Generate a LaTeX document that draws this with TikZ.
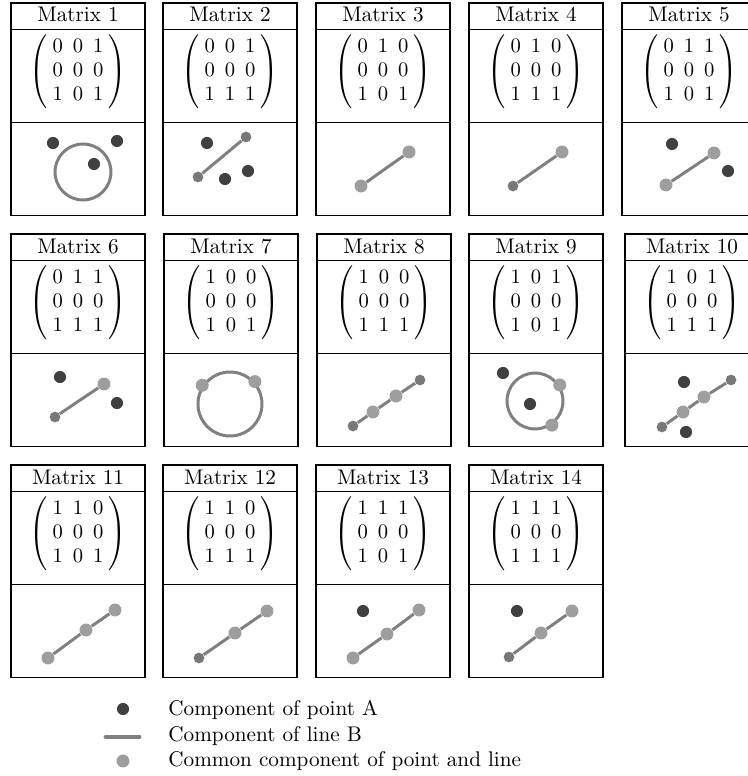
\documentclass[tikz,border=0pt]{standalone}
\usepackage{amsmath}
\definecolor{ptAc}{gray}{0.25}
\definecolor{lnBc}{gray}{0.5}
\definecolor{cmnc}{gray}{0.62}
\definecolor{lendc}{gray}{0.47}
\newcommand\mtx[9]{{\arraycolsep=2.4pt\def\arraystretch{0.94}$\left(\begin{array}{ccc}#1&#2&#3\\#4&#5&#6\\#7&#8&#9\end{array}\right)$}}
% #1 name, #2 cx, #3 top, #4 label, #5 matrix
\newcommand\mpanel[5]{%
  \node[tbox] (#1t) at ({#2},{#3+13.25}) {};
  \node[anchor=base, inner sep=0pt, font=\fontsize{10.3pt}{12.4pt}\selectfont] (#1l) at ({#2},{#3+19}) {Matrix #4};
  \node[mbox] (#1mb) at ({#2},{#3+26.5+46.5}) {};
  \node[inner sep=0pt, font=\fontsize{10.3pt}{12.4pt}\selectfont] (#1m) at ({#2},{#3+68.5}) {#5};
  \node[mbox] (#1d) at ({#2},{#3+26.5+93+46.5}) {};
}
\begin{document}
\begin{tikzpicture}[x=0.486pt,y=-0.486pt,
  tbox/.style={draw=black, line width=0.5pt, minimum width=65.12pt, minimum height=12.88pt, inner sep=0pt},
  mbox/.style={draw=black, line width=0.5pt, minimum width=65.12pt, minimum height=45.2pt, inner sep=0pt},
  ptA/.style={circle, fill=ptAc, inner sep=0pt, minimum size=5.9pt},
  common/.style={circle, fill=cmnc, inner sep=0pt, minimum size=6.3pt},
  lend/.style={circle, fill=lendc, inner sep=0pt, minimum size=5.2pt},
  lineB/.style={draw=lnBc, line width=1.45pt},
  ring/.style={circle, draw=lnBc, line width=1.45pt, inner sep=0pt},
  legtext/.style={anchor=base west, inner sep=0pt, font=\fontsize{10.3pt}{12.4pt}\selectfont}]
\useasboundingbox (0,0) rectangle (748,776);

% ---- Row 1
\mpanel{p1}{78}{3}{1}{\mtx001000101}
\mpanel{p2}{230}{3}{2}{\mtx001000111}
\mpanel{p3}{383}{3}{3}{\mtx010000101}
\mpanel{p4}{536}{3}{4}{\mtx010000111}
\mpanel{p5}{689}{3}{5}{\mtx011000101}
% ---- Row 2
\mpanel{p6}{78}{234}{6}{\mtx011000111}
\mpanel{p7}{231}{234}{7}{\mtx100000101}
\mpanel{p8}{384}{234}{8}{\mtx100000111}
\mpanel{p9}{536}{234}{9}{\mtx101000101}
\mpanel{p10}{692}{234}{10}{\mtx101000111}
% ---- Row 3
\mpanel{p11}{78}{465}{11}{\mtx110000101}
\mpanel{p12}{230}{465}{12}{\mtx110000111}
\mpanel{p13}{383}{465}{13}{\mtx111000101}
\mpanel{p14}{536}{465}{14}{\mtx111000111}

% ---- Diagram 1
\node[ring, minimum size=27.2pt] (r1) at (83,172) {};
\node[ptA] (a1a) at (53,143) {};
\node[ptA] (a1b) at (117,141) {};
\node[ptA] (a1c) at (94,164) {};
% ---- Diagram 2
\node[lend] (b2a) at (198,177) {};
\node[lend] (b2b) at (246,137) {};
\draw[lineB] (b2a) -- (b2b);
\node[ptA] (a2a) at (207,143) {};
\node[ptA] (a2b) at (225,179) {};
\node[ptA] (a2c) at (248,171) {};
% ---- Diagram 3
\node[common] (c3a) at (361,186) {};
\node[common] (c3b) at (409,152) {};
\draw[lineB] (c3a) -- (c3b);
% ---- Diagram 4
\node[lend] (b4a) at (513,186) {};
\node[common] (c4b) at (562,152) {};
\draw[lineB] (b4a) -- (c4b);
% ---- Diagram 5
\node[ptA] (a5a) at (672,144) {};
\node[ptA] (a5b) at (728,171) {};
\node[common] (c5a) at (666,185) {};
\node[common] (c5b) at (714,153) {};
\draw[lineB] (c5a) -- (c5b);
% ---- Diagram 6
\node[ptA] (a6a) at (60,377) {};
\node[ptA] (a6b) at (117,403) {};
\node[lend] (b6a) at (55,417) {};
\node[common] (c6b) at (104,384) {};
\draw[lineB] (b6a) -- (c6b);
% ---- Diagram 7
\node[ring, minimum size=31.1pt] (r7) at (230,404) {};
\node[common] (c7a) at (r7.146) {};
\node[common] (c7b) at (r7.42) {};
% ---- Diagram 8
\node[lend] (b8a) at (353,426) {};
\node[common] (c8a) at (373,412) {};
\node[common] (c8b) at (396,396) {};
\node[lend] (b8b) at (420,380) {};
\draw[lineB] (b8a) -- (c8a) -- (c8b) -- (b8b);
% ---- Diagram 9
\node[ring, minimum size=27.2pt] (r9) at (535,401) {};
\node[ptA] (a9a) at (503,373) {};
\node[ptA] (a9b) at (530,404) {};
\node[common] (c9a) at (r9.33) {};
\node[common] (c9b) at (r9.-55) {};
% ---- Diagram 10
\node[ptA] (a10a) at (684,382) {};
\node[ptA] (a10b) at (686,432) {};
\node[lend] (b10a) at (662,427) {};
\node[common] (c10a) at (683,412) {};
\node[common] (c10b) at (704,397) {};
\node[lend] (b10b) at (731,380) {};
\draw[lineB] (b10a) -- (c10a) -- (c10b) -- (b10b);
% ---- Diagram 11
\node[common] (c11a) at (48,658) {};
\node[common] (c11b) at (86,630) {};
\node[common] (c11c) at (115,610) {};
\draw[lineB] (c11a) -- (c11b) -- (c11c);
% ---- Diagram 12
\node[lend] (b12a) at (199,658) {};
\node[common] (c12b) at (235,633) {};
\node[common] (c12c) at (267,611) {};
\draw[lineB] (b12a) -- (c12b) -- (c12c);
% ---- Diagram 13
\node[ptA] (a13) at (363,611) {};
\node[common] (c13a) at (353,658) {};
\node[common] (c13b) at (387,634) {};
\node[common] (c13c) at (419,610) {};
\draw[lineB] (c13a) -- (c13b) -- (c13c);
% ---- Diagram 14
\node[ptA] (a14) at (517,611) {};
\node[lend] (b14a) at (509,657) {};
\node[common] (c14b) at (541,633) {};
\node[common] (c14c) at (572,611) {};
\draw[lineB] (b14a) -- (c14b) -- (c14c);

% ---- Legend
\node[ptA] (lgA) at (123,709) {};
\coordinate (lgL1) at (106,737);
\coordinate (lgL2) at (139,737);
\draw[draw=lnBc, line width=2.4pt, line cap=round] (lgL1) -- (lgL2);
\node[common] (lgC) at (123,761) {};
\node[legtext] (tA) at (168,715) {Component of point A};
\node[legtext] (tB) at (168,741) {Component of line B};
\node[legtext] (tC) at (168,766) {Common component of point and line};
\end{tikzpicture}
\end{document}
